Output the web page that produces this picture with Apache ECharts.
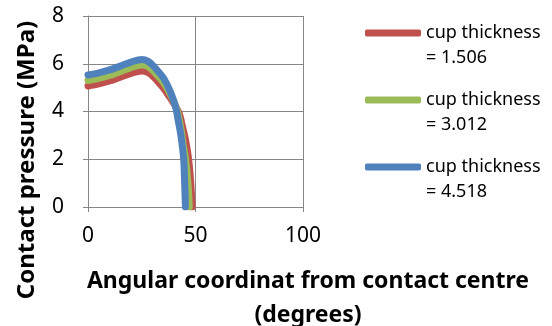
<!DOCTYPE html>
<html>
<head>
<meta charset="utf-8">
<script src="https://cdn.jsdelivr.net/npm/echarts@6/dist/echarts.min.js"></script>
<style>
  html, body { margin: 0; padding: 0; background: #fff; }
  #main { width: 552px; height: 326px; }
</style>
</head>
<body>
<div id="main"></div>
<script>
// angle (degrees), pressure (MPa)
let names = ['cup thickness = 1.506', 'cup thickness = 3.012', 'cup thickness = 4.518'];
let colors = ['#C0504D', '#9BBB59', '#4F81BD'];

let angle1 = [0, 5, 10, 15, 20, 25, 28, 30.5, 33, 35.2, 38, 40.5, 42.5, 44, 45.6, 46.8, 47.8, 48.4];
let press1 = [5.07, 5.16, 5.28, 5.44, 5.6, 5.7, 5.63, 5.45, 5.2, 4.97, 4.6, 4.25, 3.9, 3.35, 2.7, 2.0, 1.0, 0];

let angle2 = [0, 5, 10, 15, 20, 25, 28, 30.5, 33, 35.2, 38.3, 40.5, 42, 43.2, 44.3, 45.4, 46.5, 47.1];
let press2 = [5.3, 5.39, 5.51, 5.67, 5.84, 5.95, 5.88, 5.69, 5.44, 5.2, 4.72, 4.3, 3.85, 3.3, 2.6, 2.0, 1.0, 0];

let angle3 = [0, 5, 10, 15, 20, 25, 28, 30.5, 33, 35.2, 38.3, 40.7, 42.2, 43.2, 44.5, 44.95, 45.3];
let press3 = [5.53, 5.62, 5.74, 5.9, 6.07, 6.18, 6.1, 5.9, 5.64, 5.39, 4.83, 4.2, 3.5, 3.0, 2.0, 1.0, 0];

let xTicks = [0, 50, 100];
let yTicks = [0, 2, 4, 6, 8];

function pairs(xs, ys) {
    return xs.map(function (x, i) { return [x, ys[i]]; });
}

let myChart = echarts.init(document.getElementById('main'));
let font = 'Noto Sans';
let gridColor = '#868686';

let options = {
    animation: false,
    grid: { left: 88, right: 249, top: 16, bottom: 119 },
    legend: {
        orient: 'vertical',
        left: 365,
        top: -4.5,
        padding: 0,
        itemGap: -8,
        itemTextGap: 3,
        icon: 'roundRect',
        itemWidth: 56,
        itemHeight: 7,
        data: names,
        // blank first line keeps the swatch level with "cup thickness"
        formatter: function (n) { return ' \n' + n.replace(' = ', '\n= '); },
        textStyle: { fontFamily: font, fontSize: 18, color: '#000', lineHeight: 25 }
    },
    xAxis: {
        type: 'value', min: xTicks[0], max: xTicks[xTicks.length - 1], interval: 50,
        axisLine: { lineStyle: { color: gridColor } },
        axisTick: { show: true, length: 5, lineStyle: { color: gridColor } },
        splitLine: { show: true, lineStyle: { color: gridColor } },
        axisLabel: { fontFamily: font, fontSize: 21, color: '#000', margin: 19 }
    },
    yAxis: {
        type: 'value', min: yTicks[0], max: yTicks[yTicks.length - 1], interval: 2,
        axisLine: { show: true, lineStyle: { color: gridColor } },
        axisTick: { show: true, length: 5, lineStyle: { color: gridColor } },
        splitLine: { show: true, lineStyle: { color: gridColor } },
        axisLabel: { fontFamily: font, fontSize: 21, color: '#000', margin: 24 }
    },
    graphic: [
        {
            type: 'text', x: 308, y: 264,
            style: {
                text: 'Angular coordinat from contact centre\n(degrees)',
                font: 'bold 23px "Noto Sans"', fill: '#000',
                align: 'center', verticalAlign: 'top', lineHeight: 34
            }
        },
        {
            type: 'text', x: 27, y: 160, rotation: Math.PI / 2,
            style: {
                text: 'Contact pressure (MPa)',
                font: 'bold 24px "Noto Sans"', fill: '#000',
                align: 'center', verticalAlign: 'middle'
            }
        }
    ],
    series: [
        { name: names[0], data: pairs(angle1, press1) },
        { name: names[1], data: pairs(angle2, press2) },
        { name: names[2], data: pairs(angle3, press3) }
    ].map(function (s, i) {
        return Object.assign(s, {
            type: 'line', smooth: 0.3, showSymbol: false, color: colors[i],
            lineStyle: { width: 7, color: colors[i], cap: 'round', join: 'round' }
        });
    })
};
myChart.setOption(options);
</script>
</body>
</html>
